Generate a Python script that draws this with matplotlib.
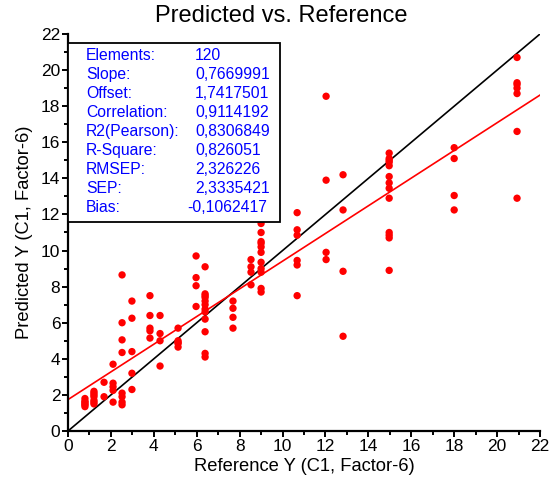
import matplotlib
matplotlib.use("Agg")
import matplotlib.pyplot as plt
from matplotlib.ticker import MultipleLocator
from matplotlib.patches import Rectangle

plt.rcParams['font.family'] = ['Liberation Sans', 'DejaVu Sans']

# Data: reference value columns and predicted values
ref_x = [0.79, 1.21, 1.68, 2.10, 2.52, 2.98, 3.82, 4.29, 5.13, 5.97,
         6.39, 7.69, 8.53, 9.00, 10.68, 12.03, 12.82, 14.97, 18.00, 20.93]
pred_y = [
    [1.35, 1.5, 1.65, 1.8, 1.45, 1.6],
    [1.5, 1.7, 1.9, 2.1, 2.2, 1.6, 2.0],
    [2.7, 1.9],
    [3.7, 2.65, 2.45, 2.25, 1.6],
    [8.65, 6.0, 5.05, 4.35, 2.1, 1.6, 1.45, 1.9],
    [7.2, 6.25, 4.4, 3.2, 2.3],
    [7.5, 6.4, 5.7, 5.55, 5.15],
    [6.4, 5.4, 5.0, 3.6],
    [5.7, 5.0, 4.85, 4.65, 4.9],
    [9.7, 8.5, 8.05, 6.9],
    [9.1, 7.6, 7.4, 7.2, 7.0, 6.75, 6.6, 6.2, 5.5, 4.3, 4.1, 7.5],
    [7.2, 6.8, 6.3, 5.7],
    [9.5, 9.1, 8.8, 8.1],
    [11.5, 11.0, 10.5, 10.2, 9.9, 9.35, 9.0, 8.8, 7.9, 7.7, 10.4],
    [12.1, 11.15, 10.85, 9.45, 9.2, 7.5],
    [18.55, 13.9, 9.9, 9.5],
    [14.2, 12.25, 8.85, 5.25],
    [15.4, 15.1, 14.9, 14.7, 14.1, 13.75, 13.45, 12.9, 11.0, 10.85, 10.7, 8.9, 15.0],
    [15.7, 15.1, 13.05, 12.25],
    [20.7, 19.3, 19.0, 18.7, 16.6, 12.9, 19.2],
]

stat_labels = ["Elements:", "Slope:", "Offset:", "Correlation:", "R2(Pearson):",
               "R-Square:", "RMSEP:", "SEP:", "Bias:"]
stat_values = ["120", "0,7669991", "1,7417501", "0,9114192", "0,8306849",
               "0,826051", "2,326226", "2,3335421", "-0,1062417"]
slope = 0.7669991
offset = 1.7417501

xs, ys = [], []
for xv, col in zip(ref_x, pred_y):
    for yv in col:
        xs.append(xv)
        ys.append(yv)

fig = plt.figure(figsize=(5.53, 4.86), dpi=100)
ax = fig.add_axes([68/553, 55/486, 472/553, 397/486])

lim = [0, 22]
ax.plot(lim, lim, color='black', lw=1.2, zorder=2)
ax.plot(lim, [offset + slope*v for v in lim], color='red', lw=1.2, zorder=2)
ax.scatter(xs, ys, s=28, color='#ff0000', edgecolors='none', zorder=3)

ax.set_xlim(0, 22)
ax.set_ylim(0, 22)
ax.xaxis.set_major_locator(MultipleLocator(2))
ax.xaxis.set_minor_locator(MultipleLocator(1))
ax.yaxis.set_major_locator(MultipleLocator(2))
ax.yaxis.set_minor_locator(MultipleLocator(1))
ax.spines['top'].set_visible(False)
ax.spines['right'].set_visible(False)
for s in ['left', 'bottom']:
    ax.spines[s].set_linewidth(1.6)
ax.tick_params(which='major', direction='out', length=4, width=1.4, labelsize=12.5, pad=1.5)
ax.tick_params(which='minor', direction='out', length=3, width=1.4)

ax.set_xlabel("Reference Y (C1, Factor-6)", fontsize=13.2, labelpad=3)
ax.set_ylabel("Predicted Y (C1, Factor-6)", fontsize=13.2, labelpad=6)
fig.text(281/553, 1 - 16/486, "Predicted vs. Reference", ha='center', va='center',
         fontsize=17)

# statistics box
box = Rectangle((68/553, 1 - 222/486), (280-68)/553, (222-43)/486, transform=fig.transFigure,
                facecolor='white', edgecolor='black', lw=1.3, zorder=5)
fig.add_artist(box)
y0 = 55
for i, (lab, val) in enumerate(zip(stat_labels, stat_values)):
    ypx = y0 + i*19.1
    fig.text(86/553, 1 - ypx/486, lab, ha='left', va='center', color='#0000ff',
             fontsize=11.3, zorder=6)
    xv = 195 if not val.startswith('-') else 187
    fig.text(xv/553, 1 - ypx/486, val, ha='left', va='center', color='#0000ff',
             fontsize=11.3, zorder=6)

fig.savefig("out.png", dpi=100)
